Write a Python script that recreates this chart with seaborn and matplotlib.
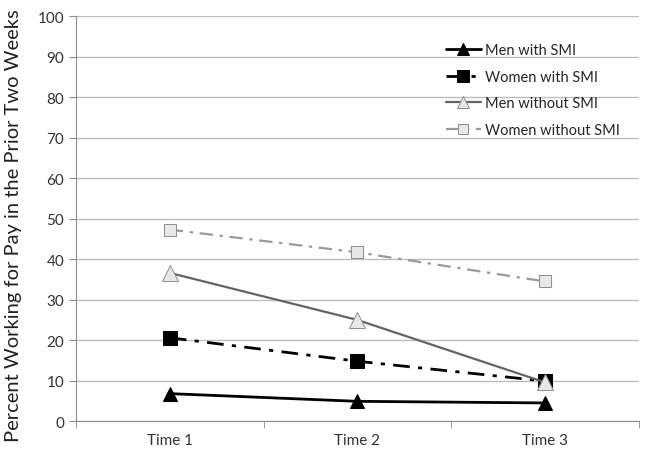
import numpy as np
import pandas as pd
import matplotlib
matplotlib.use("Agg")
import matplotlib.pyplot as plt
import seaborn as sns

# values
times = ["Time 1", "Time 2", "Time 3"]
men_smi = [6.8, 4.9, 4.5]
women_smi = [20.6, 14.8, 9.9]
men_no_smi = [36.6, 25.0, 9.6]
women_no_smi = [47.3, 41.7, 34.5]
series_names = ["Men with SMI", "Women with SMI", "Men without SMI", "Women without SMI"]

df = pd.DataFrame({
    "time": times * 4,
    "pct": men_smi + women_smi + men_no_smi + women_no_smi,
    "group": np.repeat(series_names, len(times)),
})

sns.set_style("white")
plt.rcParams["font.family"] = ["Lato", "DejaVu Sans"]

fig, ax = plt.subplots(figsize=(6.45, 4.52), dpi=100)

# line / marker styles per group
styles = {
    "Men with SMI": dict(color="black", marker="^", ls="-", lw=2, mfc="black", mec="black", ms=10),
    "Women with SMI": dict(color="black", marker="s", ls=(0, (6, 3, 1.5, 3)), lw=2, mfc="black", mec="black", ms=10),
    "Men without SMI": dict(color="#646464", marker="^", ls="-", lw=1.6, mfc="#e8e8e8", mec="#909090", ms=11),
    "Women without SMI": dict(color="#9a9a9a", marker="s", ls=(0, (6, 3, 1.5, 3)), lw=1.6, mfc="#e8e8e8", mec="#909090", ms=9),
}

for name in series_names:
    st = styles[name]
    sub = df[df["group"] == name]
    sns.lineplot(data=sub, x="time", y="pct", ax=ax, label=name, color=st["color"],
                 marker=st["marker"], linestyle=st["ls"], linewidth=st["lw"],
                 markerfacecolor=st["mfc"], markeredgecolor=st["mec"], markersize=st["ms"])

ax.set_xlim(-0.5, 2.5)
ax.set_ylim(0, 100)
ax.set_yticks(range(0, 101, 10))
ax.set_xticks([-0.5, 0.5, 1.5, 2.5], minor=True)
ax.set_xlabel("")
ax.set_ylabel("Percent Working for Pay in the Prior Two Weeks", fontsize=14.5, color="#222222", labelpad=6)
ax.yaxis.set_label_coords(-0.097, 0.485)
ax.yaxis.grid(True, color="#bdbdbd", lw=1)
ax.set_axisbelow(True)
for side in ["top", "right"]:
    ax.spines[side].set_visible(False)
for side in ["left", "bottom"]:
    ax.spines[side].set_color("#8c8c8c")
ax.tick_params(axis="y", which="major", left=True, length=5, color="#8c8c8c", labelsize=11, labelcolor="#333333")
ax.tick_params(axis="x", which="major", bottom=False, labelsize=11, labelcolor="#333333", pad=5)
ax.tick_params(axis="x", which="minor", bottom=True, length=5, color="#8c8c8c")

leg = ax.legend(loc="upper right", bbox_to_anchor=(0.99, 0.965), frameon=False, fontsize=10.5,
                handlelength=2.4, labelspacing=0.85, handletextpad=0.3, markerscale=0.8)

fig.subplots_adjust(left=0.118, right=0.99, top=0.962, bottom=0.066)
fig.savefig("out.png", dpi=100)
